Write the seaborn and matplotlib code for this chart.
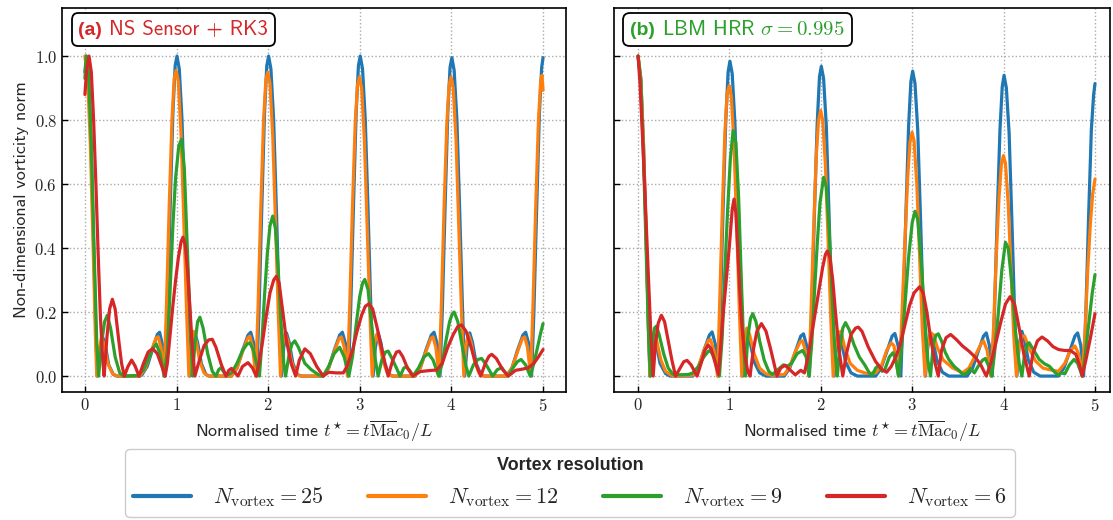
import numpy as np
import pandas as pd
import matplotlib
matplotlib.use("Agg")
import matplotlib.pyplot as plt
import seaborn as sns
from matplotlib.ticker import FuncFormatter, MultipleLocator
from matplotlib.offsetbox import AnchoredOffsetbox, TextArea, HPacker

# ---------------------------------------------------------------
# Data (t*, vorticity norm)
# ---------------------------------------------------------------
resolutions = [25, 12, 9, 6]
colors = ["#1f77b4", "#ff7f0e", "#2ca02c", "#d62728"]

# (a) NS Sensor + RK3
t_a25 = [0.0, 0.015, 0.04, 0.065, 0.09, 0.115, 0.135, 0.16, 0.19, 0.22, 0.26, 0.31, 0.35,
         0.6, 0.62, 0.68, 0.74, 0.79, 0.815, 0.845, 0.875,
         0.9, 0.93, 0.96, 0.985, 1.005, 1.03, 1.06, 1.09, 1.12, 1.145,
         1.17, 1.2, 1.23, 1.27, 1.32, 1.36, 1.6, 1.66, 1.72, 1.78, 1.81, 1.845, 1.875,
         1.9, 1.93, 1.96, 1.985, 2.005, 2.03, 2.06, 2.09, 2.12, 2.145,
         2.17, 2.2, 2.23, 2.27, 2.32, 2.36, 2.6, 2.66, 2.72, 2.78, 2.81, 2.845, 2.875,
         2.9, 2.93, 2.96, 2.985, 3.005, 3.03, 3.06, 3.09, 3.12, 3.145,
         3.17, 3.2, 3.23, 3.27, 3.32, 3.36, 3.6, 3.66, 3.72, 3.78, 3.81, 3.845, 3.875,
         3.9, 3.93, 3.96, 3.985, 4.005, 4.03, 4.06, 4.09, 4.12, 4.145,
         4.17, 4.2, 4.23, 4.27, 4.32, 4.36, 4.6, 4.66, 4.72, 4.78, 4.81, 4.845, 4.875,
         4.9, 4.93, 4.96, 4.985, 5.0]
y_a25 = [0.95, 1.0, 0.93, 0.75, 0.47, 0.18, 0.0, 0.08, 0.125, 0.1, 0.035, 0.005, 0.0,
         0.0, 0.003, 0.03, 0.085, 0.13, 0.137, 0.1, 0.0,
         0.2, 0.52, 0.82, 0.97, 1.0, 0.96, 0.8, 0.52, 0.22, 0.0,
         0.09, 0.135, 0.105, 0.04, 0.005, 0.0, 0.0, 0.025, 0.08, 0.128, 0.137, 0.1, 0.0,
         0.2, 0.52, 0.82, 0.97, 1.0, 0.96, 0.8, 0.52, 0.22, 0.0,
         0.09, 0.135, 0.105, 0.04, 0.005, 0.0, 0.0, 0.025, 0.08, 0.128, 0.137, 0.1, 0.0,
         0.2, 0.52, 0.82, 0.97, 1.0, 0.96, 0.8, 0.52, 0.22, 0.0,
         0.09, 0.135, 0.105, 0.04, 0.005, 0.0, 0.0, 0.025, 0.08, 0.128, 0.137, 0.1, 0.0,
         0.2, 0.52, 0.82, 0.965, 0.995, 0.955, 0.8, 0.52, 0.22, 0.0,
         0.09, 0.135, 0.105, 0.04, 0.005, 0.0, 0.0, 0.025, 0.08, 0.128, 0.137, 0.1, 0.0,
         0.2, 0.52, 0.82, 0.965, 0.995]

t_a12 = [0.0, 0.03, 0.06, 0.09, 0.115, 0.13, 0.155, 0.18, 0.21, 0.25, 0.3, 0.35,
         0.6, 0.66, 0.72, 0.775, 0.8, 0.83, 0.865,
         0.89, 0.92, 0.95, 0.975, 0.995, 1.02, 1.05, 1.08, 1.11, 1.135,
         1.16, 1.185, 1.215, 1.25, 1.3, 1.35, 1.6, 1.66, 1.72, 1.775, 1.8, 1.83, 1.865,
         1.89, 1.92, 1.95, 1.975, 1.995, 2.02, 2.05, 2.08, 2.11, 2.135,
         2.16, 2.185, 2.215, 2.25, 2.3, 2.35, 2.6, 2.66, 2.72, 2.775, 2.8, 2.83, 2.865,
         2.89, 2.92, 2.95, 2.975, 2.995, 3.02, 3.05, 3.08, 3.11, 3.135,
         3.16, 3.185, 3.215, 3.25, 3.3, 3.35, 3.6, 3.66, 3.72, 3.775, 3.8, 3.83, 3.865,
         3.89, 3.92, 3.95, 3.975, 3.995, 4.02, 4.05, 4.08, 4.11, 4.135,
         4.16, 4.185, 4.215, 4.25, 4.3, 4.35, 4.6, 4.66, 4.72, 4.775, 4.8, 4.83, 4.865,
         4.89, 4.92, 4.95, 4.975, 4.988, 5.0]
y_a12 = [1.0, 0.93, 0.72, 0.4, 0.12, 0.0, 0.08, 0.12, 0.1, 0.04, 0.008, 0.0,
         0.0, 0.025, 0.075, 0.118, 0.123, 0.09, 0.0,
         0.22, 0.53, 0.8, 0.93, 0.955, 0.92, 0.75, 0.48, 0.2, 0.0,
         0.1, 0.14, 0.11, 0.05, 0.01, 0.0, 0.0, 0.025, 0.075, 0.118, 0.125, 0.09, 0.0,
         0.22, 0.53, 0.8, 0.925, 0.95, 0.915, 0.75, 0.48, 0.2, 0.0,
         0.1, 0.135, 0.11, 0.05, 0.01, 0.0, 0.0, 0.025, 0.075, 0.118, 0.122, 0.09, 0.0,
         0.22, 0.53, 0.79, 0.91, 0.935, 0.9, 0.74, 0.47, 0.2, 0.0,
         0.1, 0.13, 0.105, 0.05, 0.01, 0.0, 0.0, 0.025, 0.075, 0.118, 0.122, 0.09, 0.0,
         0.22, 0.53, 0.79, 0.91, 0.935, 0.9, 0.74, 0.47, 0.2, 0.0,
         0.1, 0.13, 0.105, 0.05, 0.01, 0.0, 0.0, 0.025, 0.075, 0.118, 0.122, 0.09, 0.0,
         0.22, 0.53, 0.8, 0.925, 0.94, 0.893]

t_a9 = [0.0, 0.015, 0.04, 0.07, 0.1, 0.13, 0.15, 0.18, 0.215, 0.245, 0.28, 0.33, 0.38, 0.42,
        0.58, 0.64, 0.7, 0.75, 0.78, 0.82, 0.865,
        0.9, 0.93, 0.96, 0.99, 1.025, 1.055, 1.085, 1.115, 1.145, 1.175,
        1.2, 1.23, 1.255, 1.29, 1.34, 1.39, 1.43, 1.46, 1.485, 1.51, 1.54,
        1.6, 1.66, 1.72, 1.77, 1.8, 1.84, 1.905,
        1.93, 1.96, 1.99, 2.02, 2.05, 2.08, 2.11, 2.14, 2.17, 2.19,
        2.23, 2.26, 2.29, 2.33, 2.4, 2.47, 2.55, 2.6, 2.66, 2.72, 2.78, 2.83, 2.88,
        2.92, 2.96, 3.0, 3.03, 3.055, 3.09, 3.13, 3.17, 3.2,
        3.24, 3.28, 3.31, 3.36, 3.44, 3.48, 3.51, 3.55, 3.58, 3.64, 3.7, 3.75, 3.8, 3.86,
        3.9, 3.94, 3.98, 4.01, 4.03, 4.07, 4.12, 4.16, 4.19,
        4.24, 4.29, 4.33, 4.38, 4.45, 4.5, 4.55, 4.59, 4.62, 4.67, 4.72, 4.76, 4.81, 4.86,
        4.9, 4.94, 4.97, 5.0]
y_a9 = [0.93, 1.0, 0.95, 0.72, 0.4, 0.1, 0.0, 0.1, 0.17, 0.19, 0.15, 0.06, 0.01, 0.0,
        0.002, 0.02, 0.06, 0.09, 0.1, 0.07, 0.0,
        0.08, 0.27, 0.47, 0.62, 0.72, 0.74, 0.65, 0.42, 0.2, 0.0,
        0.1, 0.17, 0.184, 0.15, 0.07, 0.015, 0.0, 0.02, 0.026, 0.015, 0.002,
        0.01, 0.04, 0.08, 0.1, 0.104, 0.08, 0.0,
        0.1, 0.25, 0.38, 0.47, 0.5, 0.46, 0.33, 0.17, 0.04, 0.0,
        0.07, 0.1, 0.11, 0.09, 0.04, 0.02, 0.004, 0.0, 0.03, 0.07, 0.09, 0.06, 0.0,
        0.06, 0.16, 0.25, 0.29, 0.302, 0.27, 0.16, 0.05, 0.0,
        0.05, 0.075, 0.078, 0.05, 0.0, 0.025, 0.03, 0.015, 0.0, 0.025, 0.06, 0.07, 0.05, 0.0,
        0.04, 0.11, 0.17, 0.195, 0.2, 0.17, 0.09, 0.03, 0.0,
        0.035, 0.052, 0.055, 0.035, 0.0, 0.02, 0.026, 0.01, 0.0, 0.025, 0.045, 0.052, 0.035, 0.0,
        0.04, 0.09, 0.13, 0.164]

t_a6 = [0.0, 0.02, 0.045, 0.07, 0.095, 0.12, 0.145, 0.17, 0.195, 0.21,
        0.24, 0.27, 0.3, 0.33, 0.37, 0.4, 0.43, 0.47, 0.51, 0.55, 0.59,
        0.64, 0.69, 0.74, 0.79, 0.84, 0.876,
        0.9, 0.93, 0.96, 0.99, 1.02, 1.05, 1.07, 1.095, 1.12, 1.145, 1.17, 1.2,
        1.24, 1.3, 1.35, 1.39, 1.43, 1.49, 1.54, 1.57, 1.6, 1.635, 1.67, 1.72, 1.78, 1.83, 1.87,
        1.9, 1.94, 1.98, 2.02, 2.06, 2.09, 2.12, 2.16, 2.2, 2.25, 2.3,
        2.34, 2.4, 2.46, 2.53, 2.6, 2.66, 2.74, 2.82,
        2.86, 2.92, 2.97, 3.02, 3.06, 3.1, 3.14, 3.19, 3.25, 3.31,
        3.36, 3.4, 3.43, 3.47, 3.52, 3.58, 3.66, 3.75, 3.84,
        3.9, 3.96, 4.02, 4.07, 4.11, 4.16, 4.22, 4.27, 4.32,
        4.37, 4.41, 4.44, 4.49, 4.56, 4.62, 4.7, 4.78, 4.84, 4.9, 4.95, 5.0]
y_a6 = [0.88, 0.96, 1.0, 0.95, 0.8, 0.6, 0.38, 0.18, 0.05, 0.0,
        0.12, 0.21, 0.24, 0.21, 0.11, 0.04, 0.0, 0.03, 0.05, 0.03, 0.0,
        0.04, 0.075, 0.086, 0.07, 0.03, 0.0,
        0.04, 0.13, 0.22, 0.3, 0.37, 0.42, 0.434, 0.41, 0.33, 0.22, 0.1, 0.0,
        0.04, 0.095, 0.113, 0.115, 0.09, 0.035, 0.0, 0.018, 0.024, 0.012, 0.0, 0.03, 0.042, 0.025, 0.0,
        0.04, 0.11, 0.19, 0.26, 0.3, 0.312, 0.29, 0.2, 0.11, 0.04, 0.0,
        0.05, 0.085, 0.07, 0.03, 0.0, 0.012, 0.01, 0.01,
        0.03, 0.08, 0.14, 0.19, 0.218, 0.226, 0.21, 0.15, 0.07, 0.0,
        0.05, 0.075, 0.078, 0.06, 0.025, 0.0, 0.014, 0.017, 0.019,
        0.04, 0.09, 0.13, 0.155, 0.16, 0.14, 0.085, 0.035, 0.0,
        0.04, 0.062, 0.068, 0.055, 0.02, 0.0, 0.018, 0.022, 0.026, 0.04, 0.06, 0.083]

# (b) LBM HRR sigma = 0.995
t_b25 = [0.0, 0.03, 0.06, 0.09, 0.115, 0.13, 0.15, 0.17, 0.2, 0.24, 0.3, 0.35,
         0.6, 0.66, 0.72, 0.78, 0.81, 0.845, 0.875,
         0.9, 0.93, 0.96, 0.985, 1.005, 1.03, 1.06, 1.09, 1.12, 1.145,
         1.17, 1.2, 1.23, 1.27, 1.33, 1.4, 1.6, 1.66, 1.72, 1.78, 1.81, 1.845, 1.875,
         1.9, 1.93, 1.96, 1.985, 2.005, 2.03, 2.06, 2.09, 2.12, 2.145,
         2.17, 2.2, 2.23, 2.27, 2.33, 2.4, 2.6, 2.66, 2.72, 2.78, 2.81, 2.845, 2.875,
         2.9, 2.93, 2.96, 2.985, 3.005, 3.03, 3.06, 3.09, 3.12, 3.145,
         3.17, 3.2, 3.23, 3.27, 3.33, 3.4, 3.6, 3.66, 3.72, 3.78, 3.81, 3.845, 3.875,
         3.9, 3.93, 3.96, 3.985, 4.005, 4.03, 4.06, 4.09, 4.12, 4.145,
         4.17, 4.2, 4.23, 4.27, 4.33, 4.4, 4.6, 4.66, 4.72, 4.78, 4.81, 4.845, 4.875,
         4.9, 4.93, 4.96, 4.985, 5.0]
y_b25 = [1.0, 0.93, 0.72, 0.42, 0.14, 0.0, 0.08, 0.115, 0.1, 0.04, 0.008, 0.0,
         0.0, 0.025, 0.08, 0.128, 0.138, 0.1, 0.0,
         0.2, 0.52, 0.8, 0.95, 0.984, 0.945, 0.79, 0.51, 0.22, 0.0,
         0.09, 0.13, 0.1, 0.045, 0.01, 0.0, 0.0, 0.025, 0.075, 0.125, 0.132, 0.095, 0.0,
         0.2, 0.51, 0.79, 0.935, 0.968, 0.93, 0.78, 0.5, 0.21, 0.0,
         0.09, 0.13, 0.1, 0.045, 0.01, 0.0, 0.0, 0.025, 0.075, 0.125, 0.133, 0.095, 0.0,
         0.2, 0.5, 0.78, 0.92, 0.953, 0.915, 0.77, 0.5, 0.21, 0.0,
         0.09, 0.135, 0.105, 0.05, 0.012, 0.0, 0.0, 0.025, 0.075, 0.125, 0.135, 0.095, 0.0,
         0.2, 0.5, 0.77, 0.905, 0.94, 0.9, 0.76, 0.49, 0.2, 0.0,
         0.1, 0.14, 0.11, 0.05, 0.012, 0.0, 0.0, 0.025, 0.075, 0.125, 0.135, 0.095, 0.0,
         0.2, 0.5, 0.77, 0.88, 0.914]

t_b12 = [0.0, 0.03, 0.06, 0.09, 0.115, 0.13, 0.15, 0.17, 0.2, 0.25, 0.3, 0.36, 0.42,
         0.6, 0.66, 0.72, 0.77, 0.79, 0.83, 0.87,
         0.89, 0.92, 0.95, 0.975, 0.998, 1.02, 1.05, 1.08, 1.11, 1.135,
         1.16, 1.19, 1.22, 1.27, 1.33, 1.4, 1.47, 1.6, 1.66, 1.72, 1.775, 1.8, 1.835, 1.87,
         1.89, 1.92, 1.95, 1.975, 1.998, 2.02, 2.05, 2.08, 2.11, 2.135,
         2.16, 2.19, 2.22, 2.26, 2.32, 2.4, 2.5, 2.6, 2.66, 2.72, 2.77, 2.8, 2.85,
         2.88, 2.92, 2.95, 2.975, 2.998, 3.02, 3.05, 3.08, 3.11, 3.14,
         3.17, 3.2, 3.23, 3.28, 3.34, 3.44, 3.55, 3.62, 3.7, 3.76, 3.78, 3.82, 3.86,
         3.89, 3.92, 3.95, 3.975, 3.998, 4.02, 4.05, 4.08, 4.11, 4.14,
         4.17, 4.2, 4.23, 4.28, 4.35, 4.43, 4.5, 4.6, 4.67, 4.73, 4.78, 4.82, 4.86,
         4.89, 4.92, 4.95, 4.975, 5.0]
y_b12 = [1.0, 0.93, 0.72, 0.42, 0.14, 0.0, 0.1, 0.135, 0.115, 0.05, 0.015, 0.003, 0.0,
         0.003, 0.03, 0.08, 0.112, 0.115, 0.08, 0.0,
         0.2, 0.5, 0.76, 0.885, 0.908, 0.875, 0.72, 0.46, 0.19, 0.0,
         0.1, 0.15, 0.13, 0.07, 0.025, 0.007, 0.002, 0.005, 0.03, 0.075, 0.108, 0.11, 0.075, 0.0,
         0.18, 0.45, 0.69, 0.8, 0.83, 0.8, 0.66, 0.42, 0.17, 0.0,
         0.09, 0.135, 0.14, 0.09, 0.04, 0.018, 0.008, 0.01, 0.03, 0.08, 0.104, 0.095, 0.0,
         0.14, 0.42, 0.62, 0.73, 0.762, 0.735, 0.6, 0.38, 0.15, 0.0,
         0.1, 0.135, 0.13, 0.085, 0.05, 0.026, 0.01, 0.025, 0.07, 0.105, 0.11, 0.08, 0.0,
         0.15, 0.38, 0.56, 0.66, 0.689, 0.665, 0.54, 0.34, 0.13, 0.0,
         0.09, 0.125, 0.125, 0.085, 0.047, 0.025, 0.02, 0.015, 0.04, 0.08, 0.094, 0.07, 0.0,
         0.13, 0.33, 0.48, 0.57, 0.616]

t_b9 = [0.0, 0.03, 0.06, 0.09, 0.115, 0.135, 0.16, 0.18, 0.2, 0.23, 0.28, 0.33, 0.38, 0.45,
        0.55, 0.6, 0.66, 0.72, 0.77, 0.79, 0.83, 0.89,
        0.92, 0.95, 0.98, 1.01, 1.04, 1.07, 1.1, 1.13, 1.155, 1.175,
        1.2, 1.23, 1.255, 1.29, 1.33, 1.38, 1.43, 1.47, 1.53, 1.59, 1.63, 1.68, 1.74, 1.8, 1.84, 1.87,
        1.9, 1.93, 1.96, 1.99, 2.03, 2.06, 2.09, 2.12, 2.15, 2.18,
        2.21, 2.24, 2.27, 2.31, 2.36, 2.42, 2.48, 2.53, 2.56, 2.6, 2.63, 2.67, 2.7, 2.75, 2.79, 2.82, 2.85,
        2.88, 2.92, 2.96, 3.0, 3.03, 3.06, 3.1, 3.14, 3.17, 3.2,
        3.23, 3.26, 3.285, 3.32, 3.36, 3.4, 3.46, 3.51, 3.56, 3.6, 3.64, 3.68, 3.72, 3.77, 3.8, 3.83, 3.87,
        3.9, 3.94, 3.98, 4.02, 4.05, 4.09, 4.13, 4.17, 4.2,
        4.23, 4.26, 4.28, 4.32, 4.39, 4.45, 4.5, 4.56, 4.6, 4.63, 4.67, 4.72, 4.77, 4.81, 4.86,
        4.89, 4.93, 4.97, 5.0]
y_b9 = [1.0, 0.92, 0.68, 0.38, 0.12, 0.0, 0.11, 0.15, 0.156, 0.13, 0.07, 0.025, 0.006, 0.004,
        0.005, 0.01, 0.03, 0.06, 0.078, 0.08, 0.06, 0.0,
        0.12, 0.33, 0.52, 0.68, 0.767, 0.73, 0.56, 0.3, 0.1, 0.0,
        0.12, 0.18, 0.195, 0.17, 0.11, 0.05, 0.015, 0.005, 0.02, 0.035, 0.03, 0.04, 0.07, 0.08, 0.06, 0.0,
        0.1, 0.26, 0.41, 0.54, 0.621, 0.59, 0.46, 0.27, 0.1, 0.0,
        0.09, 0.15, 0.167, 0.145, 0.1, 0.06, 0.035, 0.01, 0.002, 0.025, 0.033, 0.015, 0.02, 0.06, 0.073, 0.05, 0.0,
        0.08, 0.22, 0.37, 0.48, 0.515, 0.49, 0.35, 0.17, 0.05, 0.0,
        0.1, 0.128, 0.132, 0.11, 0.075, 0.052, 0.03, 0.018, 0.004, 0.01, 0.024, 0.01, 0.03, 0.05, 0.055, 0.035, 0.0,
        0.07, 0.19, 0.33, 0.418, 0.4, 0.29, 0.14, 0.04, 0.0,
        0.07, 0.1, 0.104, 0.085, 0.052, 0.038, 0.031, 0.012, 0.003, 0.01, 0.007, 0.035, 0.052, 0.04, 0.0,
        0.06, 0.16, 0.26, 0.317]

t_b6 = [0.0, 0.02, 0.05, 0.08, 0.11, 0.14, 0.165,
        0.19, 0.22, 0.255, 0.29, 0.33, 0.37, 0.41, 0.45, 0.5, 0.536, 0.58, 0.646,
        0.69, 0.73, 0.766, 0.8, 0.84, 0.88,
        0.9, 0.93, 0.965, 1.0, 1.03, 1.05, 1.07, 1.09, 1.11, 1.135, 1.165, 1.2, 1.225,
        1.26, 1.3, 1.35, 1.4, 1.45, 1.52, 1.56, 1.61, 1.66, 1.72, 1.78, 1.82,
        1.86, 1.9, 1.94, 1.98, 2.02, 2.05, 2.07, 2.1, 2.13, 2.16, 2.2, 2.24,
        2.28, 2.33, 2.38, 2.41, 2.45, 2.52, 2.6, 2.67, 2.72, 2.77, 2.82, 2.87, 2.92, 2.97, 3.02,
        3.08, 3.12, 3.16, 3.2, 3.25, 3.285,
        3.32, 3.37, 3.42, 3.48, 3.55, 3.62, 3.69, 3.75, 3.81,
        3.86, 3.92, 3.97, 4.02, 4.07, 4.12, 4.17, 4.22, 4.28,
        4.32, 4.37, 4.42, 4.48, 4.54, 4.6, 4.67, 4.73, 4.79, 4.83, 4.86, 4.9, 4.95, 5.0]
y_b6 = [1.0, 0.92, 0.74, 0.54, 0.33, 0.13, 0.0,
        0.1, 0.165, 0.19, 0.17, 0.11, 0.05, 0.0, 0.02, 0.045, 0.049, 0.035, 0.0,
        0.04, 0.08, 0.097, 0.085, 0.045, 0.005,
        0.08, 0.19, 0.3, 0.41, 0.52, 0.553, 0.51, 0.4, 0.28, 0.16, 0.07, 0.015, 0.0,
        0.08, 0.14, 0.164, 0.14, 0.085, 0.0, 0.025, 0.034, 0.02, 0.004, 0.018, 0.01,
        0.06, 0.13, 0.2, 0.27, 0.34, 0.38, 0.391, 0.37, 0.3, 0.2, 0.08, 0.0,
        0.07, 0.13, 0.15, 0.153, 0.14, 0.09, 0.045, 0.02, 0.012, 0.03, 0.06, 0.1, 0.16, 0.22, 0.26,
        0.279, 0.26, 0.2, 0.12, 0.04, 0.0,
        0.08, 0.12, 0.13, 0.115, 0.094, 0.078, 0.059, 0.035, 0.0,
        0.04, 0.11, 0.17, 0.225, 0.248, 0.225, 0.15, 0.07, 0.0,
        0.07, 0.11, 0.122, 0.11, 0.092, 0.083, 0.08, 0.08, 0.068, 0.035, 0.0, 0.05, 0.12, 0.195]

series_a = [(t_a25, y_a25), (t_a12, y_a12), (t_a9, y_a9), (t_a6, y_a6)]
series_b = [(t_b25, y_b25), (t_b12, y_b12), (t_b9, y_b9), (t_b6, y_b6)]


def to_frame(series):
    frames = []
    for n, (t, y) in zip(resolutions, series):
        frames.append(pd.DataFrame({"t": t, "norm": y,
                                    "res": rf"$N_{{\mathrm{{vortex}}}} = {n}$"}))
    return pd.concat(frames, ignore_index=True)


df_a = to_frame(series_a)
df_b = to_frame(series_b)
labels = [rf"$N_{{\mathrm{{vortex}}}} = {n}$" for n in resolutions]
palette = dict(zip(labels, colors))

# ---------------------------------------------------------------
# Style
# ---------------------------------------------------------------
sns.set_theme(style="ticks")
plt.rcParams["font.family"] = ["cmss10", "DejaVu Sans"]
plt.rcParams["mathtext.fontset"] = "cm"
plt.rcParams["axes.formatter.use_mathtext"] = True
plt.rcParams["xtick.direction"] = "in"
plt.rcParams["ytick.direction"] = "in"
bold_font = ["Liberation Sans", "DejaVu Sans"]

fig = plt.figure(figsize=(11.13, 5.2), dpi=100)
ax1 = fig.add_axes([0.0557, 0.246, 0.4528, 0.7385])
ax2 = fig.add_axes([0.5517, 0.246, 0.4456, 0.7385], sharey=ax1)

for ax, df in [(ax1, df_a), (ax2, df_b)]:
    sns.lineplot(data=df, x="t", y="norm", hue="res", hue_order=labels,
                 palette=palette, estimator=None, sort=False, lw=2.3, ax=ax,
                 legend=(ax is ax1))
    ax.set_ylim(-0.05, 1.15)
    ax.xaxis.set_major_locator(MultipleLocator(1))
    ax.yaxis.set_major_locator(MultipleLocator(0.2))
    ax.xaxis.set_major_formatter(FuncFormatter(lambda v, p: f"${v:.0f}$"))
    ax.yaxis.set_major_formatter(FuncFormatter(lambda v, p: f"${v:.1f}$"))
    ax.grid(True, ls=":", color="#aaaaaa", lw=1.0)
    ax.tick_params(labelsize=12, length=4, width=1, color="black")
    for s in ax.spines.values():
        s.set_linewidth(1.2)
        s.set_color("black")
    ax.set_xlabel(r"Normalised time $t^{\star} = t\overline{\mathrm{Ma}}c_0/L$",
                  fontsize=13, labelpad=3)

ax1.set_xlim(-0.25, 5.25)
ax2.set_xlim(-0.263, 5.164)
ax1.set_ylabel("Non-dimensional vorticity norm", fontsize=13)
ax2.set_ylabel("")
plt.setp(ax2.get_yticklabels(), visible=False)


def panel_label(ax, tag, text, color):
    box = HPacker(children=[
        TextArea(tag, textprops=dict(color=color, fontweight="bold", size=14,
                                     family=bold_font)),
        TextArea(text, textprops=dict(color=color, size=15))],
        sep=5, pad=0, align="baseline")
    anch = AnchoredOffsetbox(loc="upper left", child=box, pad=0.35, borderpad=0.0,
                             frameon=True, bbox_to_anchor=(0.022, 0.982),
                             bbox_transform=ax.transAxes)
    anch.patch.set_boxstyle("round,pad=0.1,rounding_size=0.4")
    anch.patch.set_edgecolor("black")
    anch.patch.set_linewidth(1.3)
    ax.add_artist(anch)


panel_label(ax1, "(a)", "NS Sensor + RK3", colors[3])
panel_label(ax2, "(b)", r"LBM HRR $\sigma = 0.995$", colors[2])

handles, labs = ax1.get_legend_handles_labels()
ax1.get_legend().remove()
leg = fig.legend(handles, labs, loc="lower center", bbox_to_anchor=(0.512, 0.006),
                 ncol=4, title="Vortex resolution", fontsize=16, title_fontsize=13,
                 frameon=True, fancybox=True, edgecolor="#cccccc", framealpha=1,
                 handlelength=2.6, columnspacing=2.0, borderpad=0.35,
                 handletextpad=1.0, borderaxespad=0.0)
leg.get_title().set_fontweight("bold")
leg.get_title().set_family(bold_font)
for h in leg.get_lines():
    h.set_linewidth(3)

fig.savefig("out.png", dpi=100)
